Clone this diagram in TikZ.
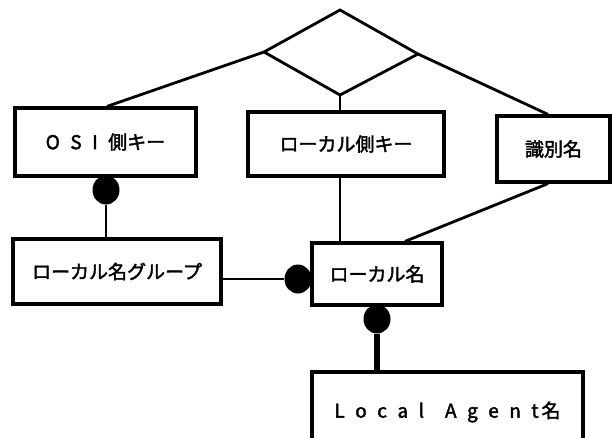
\documentclass[tikz,border=0pt]{standalone}
\usepackage{fontspec}
\usetikzlibrary{shapes.geometric}
\setmainfont{Noto Sans CJK JP}[FakeBold=2]
\newcommand\gp{\hspace{10.5pt}}
\begin{document}
\begin{tikzpicture}[x=1pt,y=-1pt,
  box/.style={draw,line width=3.2pt,inner sep=0pt,font=\fontsize{19}{19}\selectfont},
  conn/.style={line width=2.8pt},
  thickconn/.style={line width=6.5pt},
  dot/.style={ellipse,fill,draw=none,inner sep=0pt,minimum width=27pt,minimum height=29pt}]
\useasboundingbox (0,0) rectangle (612,437);
\clip (0,0) rectangle (612,437);
% diamond
\coordinate (A) at (340,10);
\coordinate (L) at (264,52);
\coordinate (R) at (418,54);
\coordinate (B) at (340,95);
% boxes
\node[box,minimum width=181pt,minimum height=68pt] (osi) at (105.5,142) {O\gp S\gp I\gp 側キー};
\node[box,minimum width=196pt,minimum height=64pt] (lsk) at (346,144) {ローカル側キー};
\node[box,minimum width=113pt,minimum height=66pt] (sik) at (553.5,149) {識別名};
\node[box,minimum width=208pt,minimum height=65pt] (grp) at (117,271.5) {ローカル名グループ};
\node[box,minimum width=130pt,minimum height=62pt] (lname) at (377,274) {ローカル名};
\node[box,minimum width=271pt,minimum height=80pt] (la) at (447.5,412) {L\gp o\gp c\gp a\gp l\gp\gp A\gp g\gp e\gp n\gp t\hspace{3pt}名};
% diamond lines
\draw[conn,line join=miter] (A) -- (L) -- (B) -- (R) -- cycle;
\draw[conn] (L) -- ([xshift=1.5pt]osi.north);
\draw[conn] (R) -- ([xshift=-5.5pt]sik.north);
\draw[conn] (B) -- (B |- lsk.north);
% lower connections
\draw[conn] (lsk.south -| B) -- (lname.north -| B);
\draw[conn] ([xshift=-5.5pt]sik.south) -- ([xshift=28pt]lname.north);
\node[dot] (d1) at (106,190) {};
\draw[conn] (d1) -- (grp.north -| d1);
\node[dot] (d2) at (298,279) {};
\draw[conn] (grp.east |- d2) -- (d2);
\node[dot] (d3) at (377,319) {};
\draw[thickconn] (d3) -- (la.north -| d3);
\end{tikzpicture}
\end{document}
